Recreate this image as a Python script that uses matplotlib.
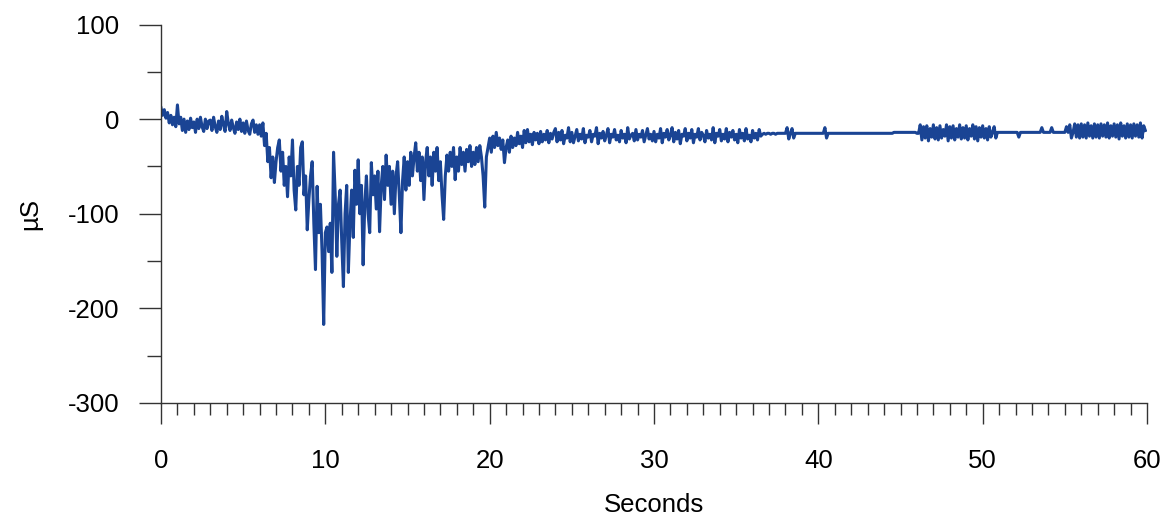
import numpy as np
import matplotlib
matplotlib.use("Agg")
import matplotlib.pyplot as plt
from matplotlib.ticker import MultipleLocator

# ---- data (µS vs seconds) ----
# part 1: 0.0 .. 23.9 s, step 0.1 s
t_start_a, dt_a = 0.0, 0.1
vals_a = [
    12, 4, 10, 1, 7, -4, 4, -6, 2, -8,
    15, -5, 2, -12, 0, -14, -2, -11, 1, -9,
    -3, -14, 0, -10, 2, -8, -13, 0, -10, -2,
    -1, -12, 2, -8, -14, -2, -11, 3, -6, -13,
    8, -5, -12, -1, -9, -15, -3, -11, 0, -13,
    -4, -15, -2, -12, -16, -5, -1, -14, -6, -16,
    -6, -18, -4, -28, -15, -45, -30, -62, -40, -67,
    -45, -30, -22, -55, -35, -70, -50, -82, -40, -60,
    -22, -75, -96, -50, -70, -30, -24, -80, -60, -117,
    -85, -60, -45, -110, -159, -71, -120, -90, -140, -217,
    -120, -114, -140, -110, -162, -35, -80, -145, -90, -75,
    -130, -177, -100, -70, -162, -110, -75, -125, -54, -90,
    -43, -100, -70, -154, -90, -60, -100, -120, -46, -80,
    -60, -95, -55, -119, -70, -50, -85, -38, -70, -50,
    -90, -55, -100, -60, -45, -80, -120, -65, -40, -75,
    -45, -70, -35, -60, -40, -25, -55, -35, -65, -40,
    -85, -45, -30, -60, -40, -70, -35, -55, -30, -65,
    -45, -80, -106, -60, -38, -55, -35, -50, -30, -64,
    -40, -55, -30, -48, -35, -55, -32, -45, -28, -50,
    -35, -48, -30, -45, -28, -40, -60, -93, -40, -30,
    -20, -35, -18, -30, -14, -28, -20, -32, -22, -46,
    -30, -22, -35, -18, -30, -20, -28, -14, -26, -18,
    -30, -12, -25, -11, -24, -16, -27, -14, -22, -15,
    -26, -13, -24, -16, -22, -12, -25, -15, -21, -14,
]
# part 2: 24.0 .. 59.9 s, step 0.1 s
t_start_b, dt_b = 24.0, 0.1
vals_b = [
    -10, -24, -14, -22, -12, -26, -17, -20, -9, -24,
    -14, -25, -18, -11, -23, -16, -21, -10, -25, -17,
    -19, -12, -24, -16, -18, -9, -26, -15, -20, -13,
    -23, -17, -10, -25, -16, -19, -11, -22, -17, -24,
    -12, -20, -16, -25, -9, -21, -17, -15, -23, -11,
    -22, -16, -19, -12, -24, -17, -10, -21, -16, -23,
    -13, -24, -16, -20, -10, -25, -15, -19, -11, -22,
    -17, -9, -24, -14, -21, -12, -26, -16, -18, -10,
    -23, -15, -20, -11, -25, -16, -19, -10, -22, -14,
    -17, -24, -12, -20, -16, -22, -9, -25, -15, -18,
    -11, -23, -16, -21, -10, -24, -14, -19, -12, -22,
    -16, -25, -11, -20, -15, -23, -10, -21, -17, -24,
    -12, -20, -15, -22, -11, -18, -16, -15, -16, -15,
    -15, -16, -15, -15, -16, -15, -15, -15, -15, -15,
    -15, -9, -21, -15, -10, -20, -15, -15, -15, -15,
    -15, -15, -15, -15, -15, -15, -15, -15, -15, -15,
    -15, -15, -15, -15, -9, -20, -15, -15, -15, -15,
    -15, -15, -15, -15, -15, -15, -15, -15, -15, -15,
    -15, -15, -15, -15, -15, -15, -15, -15, -15, -15,
    -15, -15, -15, -15, -15, -15, -15, -15, -15, -15,
    -15, -15, -15, -15, -15, -15, -14, -14, -14, -14,
    -14, -14, -14, -14, -14, -14, -14, -14, -14, -14,
    -15, -15, -6, -22, -8, -20, -7, -23, -10, -19,
    -6, -21, -9, -22, -7, -20, -11, -18, -6, -23,
    -8, -20, -7, -22, -10, -19, -6, -21, -9, -20,
    -7, -22, -10, -18, -6, -21, -8, -23, -9, -19,
    -7, -20, -10, -22, -8, -19, -14, -8, -20, -14,
    -14, -14, -14, -14, -14, -14, -14, -14, -14, -14,
    -14, -14, -19, -14, -14, -14, -14, -14, -14, -14,
    -14, -14, -14, -14, -14, -14, -9, -14, -14, -14,
    -14, -14, -9, -14, -14, -14, -14, -14, -14, -14,
    -14, -8, -14, -6, -20, -14, -5, -19, -6, -20,
    -5, -19, -6, -20, -4, -18, -7, -20, -5, -19,
    -6, -20, -5, -18, -6, -19, -4, -20, -7, -18,
    -5, -19, -6, -21, -4, -18, -7, -20, -5, -19,
    -6, -20, -5, -18, -6, -19, -4, -20, -7, -12,
]

x_label = "Seconds"
y_label = "µS"
x_ticks = [0, 10, 20, 30, 40, 50, 60]
y_ticks = [100, 0, -100, -200, -300]

t_a = t_start_a + dt_a * np.arange(len(vals_a))
t_b = t_start_b + dt_b * np.arange(len(vals_b))
t = np.concatenate([t_a, t_b])
v = np.concatenate([vals_a, vals_b])

plt.rcParams['font.family'] = ['Liberation Sans', 'DejaVu Sans']
plt.rcParams['axes.unicode_minus'] = False

W, H = 1173, 518
fig = plt.figure(figsize=(W / 100, H / 100), dpi=100)
ax = fig.add_axes([161 / W, 1 - 403 / H, (1147 - 161) / W, (403 - 24.5) / H])

ax.plot(t, v, color='#1a4494', lw=2.2, solid_joinstyle='round')

ax.set_xlim(0, 60)
ax.set_ylim(-300, 100)
ax.set_xticks(x_ticks)
ax.set_yticks(y_ticks)
ax.xaxis.set_minor_locator(MultipleLocator(1))
ax.yaxis.set_minor_locator(MultipleLocator(50))

for s in ['top', 'right']:
    ax.spines[s].set_visible(False)
for s in ['left', 'bottom']:
    ax.spines[s].set_color('#333333')
    ax.spines[s].set_linewidth(1.0)

ax.tick_params(axis='y', which='major', length=16, width=1.0, color='#333333',
               labelsize=18.5, pad=14)
ax.tick_params(axis='y', which='minor', length=10, width=1.0, color='#333333')
ax.tick_params(axis='x', which='major', length=15, width=1.0, color='#333333',
               labelsize=18.5, pad=18)
ax.tick_params(axis='x', which='minor', length=8.5, width=1.0, color='#333333')

fig.text(654 / W, 1 - 505 / H, x_label, ha='center', va='center', fontsize=18.5)
fig.text(30 / W, 1 - 214 / H, y_label, ha='center', va='center', fontsize=18.5,
         rotation=90)

fig.savefig('out.png', dpi=100)
